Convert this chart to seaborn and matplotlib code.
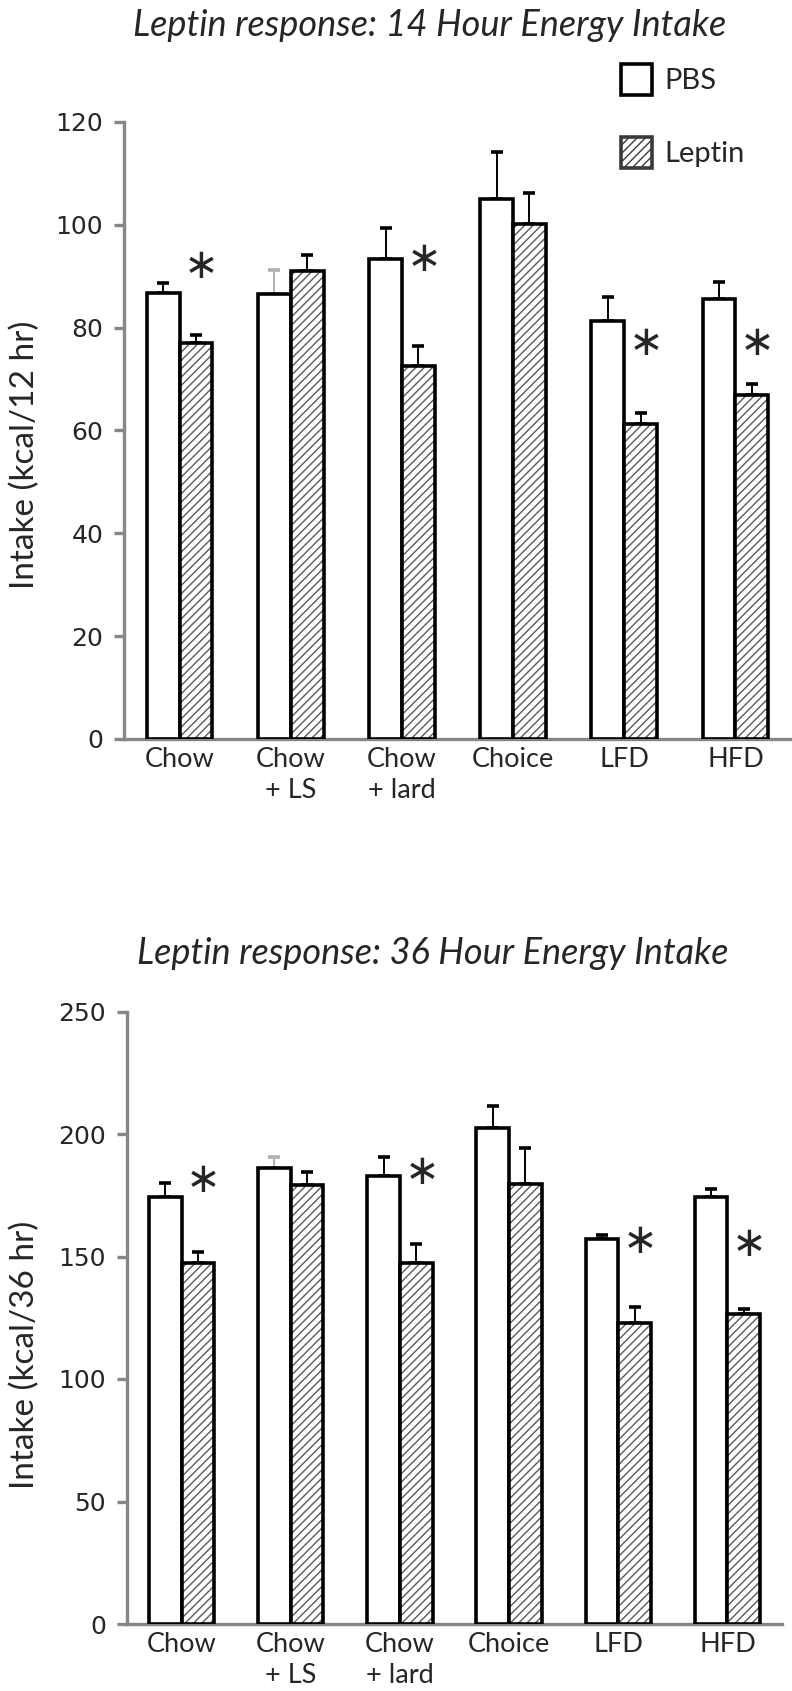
import numpy as np
import pandas as pd
import matplotlib
matplotlib.use("Agg")
import matplotlib.pyplot as plt
import seaborn as sns
from matplotlib.patches import Rectangle, Patch

# ---------------- data ----------------
categories = ["Chow", "Chow\n+ LS", "Chow\n+ lard", "Choice", "LFD", "HFD"]
groups = ["PBS", "Leptin"]

pbs_14 = [86.7, 86.6, 93.3, 105.1, 81.2, 85.5]
pbs_14_err = [2.0, 4.6, 6.1, 9.0, 4.8, 3.3]
lep_14 = [77.0, 91.1, 72.5, 100.1, 61.2, 67.0]
lep_14_err = [1.6, 3.0, 4.0, 6.0, 2.3, 2.0]
star_cats_14 = [0, 2, 4, 5]
star_y_14 = [92.0, 93.4, 77.1, 77.1]

pbs_36 = [174.4, 186.2, 182.8, 202.6, 157.0, 174.4]
pbs_36_err = [5.7, 4.5, 7.8, 9.0, 1.8, 3.2]
lep_36 = [147.5, 179.2, 147.3, 179.5, 123.0, 126.4]
lep_36_err = [4.5, 5.4, 8.0, 14.6, 6.5, 2.1]
star_cats_36 = [0, 2, 4, 5]
star_y_36 = [181.2, 184.6, 156.5, 155.0]

gray_err = [(0, 1)]  # (group index, category index) with light-gray error bar

titles = ["Leptin response: 14 Hour Energy Intake",
          "Leptin response: 36 Hour Energy Intake"]
ylabels = ["Intake (kcal/12 hr)", "Intake (kcal/36 hr)"]
yticks_14 = [0, 20, 40, 60, 80, 100, 120]
yticks_36 = [0, 50, 100, 150, 200, 250]

# ---------------- style ----------------
sns.set_theme(style="white")
plt.rcParams["font.family"] = ["Lato", "DejaVu Sans"]
plt.rcParams["hatch.linewidth"] = 1.0

W, H = 792, 1691
fig = plt.figure(figsize=(W / 100, H / 100), dpi=100)
ax1 = fig.add_axes([124 / W, 1 - 739 / H, 667 / W, 617 / H])
ax2 = fig.add_axes([127 / W, 1 - 1624 / H, 655 / W, 612.5 / H])

AXIS_GRAY = "#878787"


def draw(ax, pbs, pbs_err, lep, lep_err, yticks, ylabel, star_cats, star_y, width):
    df = pd.DataFrame({
        "Diet": categories * 2,
        "Group": ["PBS"] * len(categories) + ["Leptin"] * len(categories),
        "Intake": pbs + lep,
    })
    sns.barplot(data=df, x="Diet", y="Intake", hue="Group", order=categories,
                hue_order=groups, palette={"PBS": "white", "Leptin": "white"},
                width=width, errorbar=None, legend=False, saturation=1,
                ax=ax, zorder=3)
    errs = [pbs_err, lep_err]
    for gi, cont in enumerate(ax.containers[:2]):
        for ci, bar in enumerate(cont):
            x = bar.get_x() + bar.get_width() / 2
            top = bar.get_height()
            col = "#b0b0b0" if (gi, ci) in gray_err else "black"
            ax.errorbar([x], [top], yerr=[[0], [errs[gi][ci]]], fmt="none",
                        ecolor=col, elinewidth=1.4, capsize=4.5, capthick=2.6,
                        zorder=2)
            if gi == 0:
                bar.set_facecolor("white")
                bar.set_edgecolor("black")
                bar.set_linewidth(2.6)
            else:
                bar.set_facecolor("white")
                bar.set_edgecolor("#5a5a5a")
                bar.set_hatch("////")
                bar.set_linewidth(0)
                ax.add_patch(Rectangle((bar.get_x(), 0), bar.get_width(), top,
                                       fill=False, edgecolor="black",
                                       linewidth=2.6, zorder=4))
    lep_bars = ax.containers[1]
    for ci, sy in zip(star_cats, star_y):
        b = lep_bars[ci]
        ax.text(b.get_x() + b.get_width() / 2 + 0.05, sy, "\u2217",
                fontsize=30, fontfamily="DejaVu Sans",
                ha="center", va="center", zorder=5)

    ax.set_xlim(-0.5, len(categories) - 0.5)
    ax.set_ylim(0, yticks[-1])
    ax.set_yticks(yticks)
    ax.set_yticklabels([str(t) for t in yticks], fontfamily="DejaVu Sans",
                       fontsize=18)
    ax.set_xticks(range(len(categories)))
    ax.set_xticklabels(categories, fontsize=19.5, linespacing=1.3,
                       va="top")
    ax.set_xlabel("")
    ax.set_ylabel(ylabel, fontsize=24)
    for s in ["top", "right"]:
        ax.spines[s].set_visible(False)
    for s in ["left", "bottom"]:
        ax.spines[s].set_color(AXIS_GRAY)
        ax.spines[s].set_linewidth(2.4)
    ax.tick_params(axis="y", length=7, width=2.4, color=AXIS_GRAY, pad=8,
                   left=True, direction="out")
    ax.tick_params(axis="x", length=0, pad=6)
    ax.set_facecolor("none")


draw(ax1, pbs_14, pbs_14_err, lep_14, lep_14_err, yticks_14, ylabels[0],
     star_cats_14, star_y_14, 0.59)
draw(ax2, pbs_36, pbs_36_err, lep_36, lep_36_err, yticks_36, ylabels[1],
     star_cats_36, star_y_36, 0.60)

ax1.yaxis.set_label_coords((40 - 124) / 667, 0.46)
ax2.yaxis.set_label_coords((40 - 127) / 655, 0.44)

fig.text(430 / W, 1 - 26 / H, titles[0], ha="center", va="center",
         fontsize=26, style="italic")
fig.text(433 / W, 1 - 953 / H, titles[1], ha="center", va="center",
         fontsize=26, style="italic")

handles = [
    Patch(facecolor="white", edgecolor="black", linewidth=2.6, label="PBS"),
    Patch(facecolor="white", edgecolor="#3a3a3a", hatch="////", linewidth=2.6,
          label="Leptin"),
]
fig.legend(handles=handles, loc="upper left",
           bbox_to_anchor=(621 / W, 1 - 64 / H), frameon=False,
           fontsize=21, handlelength=1.05, handleheight=1.25,
           handletextpad=0.45, labelspacing=1.45, borderpad=0,
           borderaxespad=0)

fig.savefig("out.png", dpi=100, facecolor="white")
